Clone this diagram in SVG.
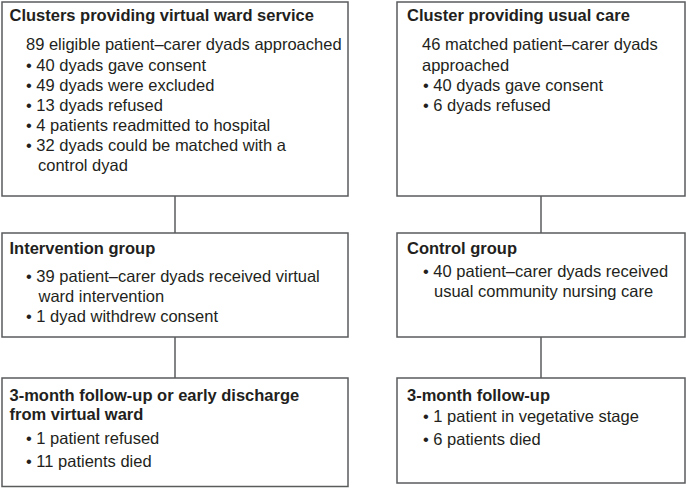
<svg xmlns="http://www.w3.org/2000/svg" width="686" height="488" viewBox="0 0 686 488">
<style>
.box{fill:#ffffff;stroke:#5a5b5d;stroke-width:1.5}
.t{font-family:"Liberation Sans",Arial,sans-serif;font-size:16.5px;font-weight:bold;fill:#231f20}
.b{font-family:"Liberation Sans",Arial,sans-serif;font-size:16.5px;fill:#231f20}
.c{stroke:#5a5b5d;stroke-width:1.5;fill:none}
</style>
<rect width="686" height="488" fill="#ffffff"/>
<g id="connectors">
<line class="c" x1="175" y1="196" x2="175" y2="233"/>
<line class="c" x1="175" y1="337" x2="175" y2="378"/>
<line class="c" x1="541" y1="196" x2="541" y2="233"/>
<line class="c" x1="541" y1="337" x2="541" y2="378"/>
</g>
<g id="virtual-ward">
<rect class="box" x="2" y="2" width="346" height="194"/>
<text class="t" x="9.5" y="21">Clusters providing virtual ward service</text>
<text class="b" x="26" y="50">89 eligible patient–carer dyads approached</text>
<text class="b" x="26" y="70.5">• 40 dyads gave consent</text>
<text class="b" x="26" y="90.5">• 49 dyads were excluded</text>
<text class="b" x="26" y="110.5">• 13 dyads refused</text>
<text class="b" x="26" y="130.5">• 4 patients readmitted to hospital</text>
<text class="b" x="26" y="150.5">• 32 dyads could be matched with a</text>
<text class="b" x="38" y="170.5">control dyad</text>
</g>
<g id="usual-care">
<rect class="box" x="397" y="2" width="288" height="194"/>
<text class="t" x="407" y="21">Cluster providing usual care</text>
<text class="b" x="422" y="50">46 matched patient–carer dyads</text>
<text class="b" x="422" y="70.5">approached</text>
<text class="b" x="423" y="90.5">• 40 dyads gave consent</text>
<text class="b" x="423" y="110.5">• 6 dyads refused</text>
</g>
<g id="intervention">
<rect class="box" x="2" y="233" width="346" height="104"/>
<text class="t" x="9.5" y="253.5">Intervention group</text>
<text class="b" x="26" y="281.5">• 39 patient–carer dyads received virtual</text>
<text class="b" x="38.5" y="301.5">ward intervention</text>
<text class="b" x="26" y="321.5">• 1 dyad withdrew consent</text>
</g>
<g id="control">
<rect class="box" x="397" y="233" width="288" height="104"/>
<text class="t" x="407" y="253.5">Control group</text>
<text class="b" x="423" y="277">• 40 patient–carer dyads received</text>
<text class="b" x="434" y="297">usual community nursing care</text>
</g>
<g id="followup-intervention">
<rect class="box" x="2" y="378" width="346" height="108.5"/>
<text class="t" x="9.5" y="400.5">3-month follow-up or early discharge</text>
<text class="t" x="9.5" y="420">from virtual ward</text>
<text class="b" x="26" y="443.5">• 1 patient refused</text>
<text class="b" x="26" y="466.5">• 11 patients died</text>
</g>
<g id="followup-control">
<rect class="box" x="397" y="378" width="288" height="105"/>
<text class="t" x="407" y="400.5">3-month follow-up</text>
<text class="b" x="423" y="421.5">• 1 patient in vegetative stage</text>
<text class="b" x="423" y="445">• 6 patients died</text>
</g>
</svg>
